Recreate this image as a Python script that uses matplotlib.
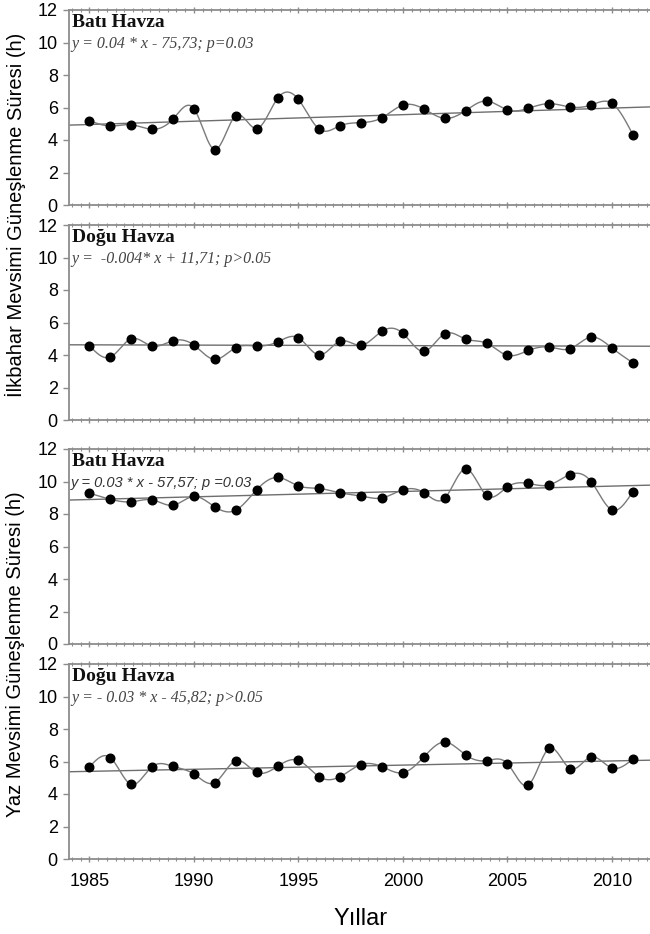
import numpy as np
import matplotlib
matplotlib.use("Agg")
import matplotlib.pyplot as plt
from matplotlib.ticker import MultipleLocator

years = list(range(1985, 2012))

# İlkbahar (spring)
spring_bati = [5.19, 4.86, 4.94, 4.66, 5.29, 5.93, 3.41, 5.50, 4.70, 6.56, 6.50, 4.66,
               4.88, 5.07, 5.37, 6.15, 5.91, 5.33, 5.81, 6.40, 5.85, 5.95, 6.24, 6.03,
               6.15, 6.26, 4.33]
spring_dogu = [4.57, 3.87, 5.00, 4.55, 4.88, 4.61, 3.73, 4.45, 4.55, 4.80, 5.06, 4.00,
               4.86, 4.59, 5.47, 5.33, 4.22, 5.31, 4.98, 4.73, 3.98, 4.28, 4.49, 4.39,
               5.10, 4.43, 3.52]
# Yaz (summer)
summer_bati = [9.28, 8.91, 8.75, 8.87, 8.54, 9.08, 8.44, 8.23, 9.49, 10.25, 9.73, 9.57,
               9.30, 9.10, 8.99, 9.49, 9.32, 8.97, 10.78, 9.14, 9.67, 9.88, 9.79, 10.43,
               10.00, 8.25, 9.38]
summer_dogu = [5.66, 6.24, 4.59, 5.68, 5.70, 5.23, 4.70, 6.05, 5.33, 5.70, 6.07, 5.05,
               5.07, 5.81, 5.68, 5.31, 6.28, 7.20, 6.40, 6.05, 5.87, 4.55, 6.81, 5.56,
               6.28, 5.60, 6.15]

titles = ["Batı Havza", "Doğu Havza", "Batı Havza", "Doğu Havza"]
equations = ["y = 0.04 * x - 75,73; p=0.03",
             "y =  -0.004* x + 11,71; p>0.05",
             "y = 0.03 * x - 57,57; p =0.03",
             "y = - 0.03 * x - 45,82; p>0.05"]
series = [spring_bati, spring_dogu, summer_bati, summer_dogu]

sans = "Liberation Sans"
serif = "Liberation Serif"


# natural cubic spline, only used to draw the smooth connector like the original
def spline(x, y, n=20):
    x = np.asarray(x, float)
    y = np.asarray(y, float)
    k = len(x)
    h = np.diff(x)
    A = np.zeros((k, k))
    b = np.zeros(k)
    A[0, 0] = A[-1, -1] = 1
    for i in range(1, k - 1):
        A[i, i - 1] = h[i - 1]
        A[i, i] = 2 * (h[i - 1] + h[i])
        A[i, i + 1] = h[i]
        b[i] = 3 * ((y[i + 1] - y[i]) / h[i] - (y[i] - y[i - 1]) / h[i - 1])
    c = np.linalg.solve(A, b)
    xs, ys = [], []
    for i in range(k - 1):
        bb = (y[i + 1] - y[i]) / h[i] - h[i] * (2 * c[i] + c[i + 1]) / 3
        d = (c[i + 1] - c[i]) / (3 * h[i])
        t = np.linspace(0, h[i], n, endpoint=False)
        xs.extend(x[i] + t)
        ys.extend(y[i] + bb * t + c[i] * t ** 2 + d * t ** 3)
    xs.append(x[-1])
    ys.append(y[-1])
    return xs, ys


fig = plt.figure(figsize=(6.5, 9.34), dpi=100)

tops = [10, 225, 449, 664]
height = 195
xlim = (1984.02, 2011.82)

for i in range(4):
    bottom = 1 - (tops[i] + height) / 934
    ax = fig.add_axes([0.106, bottom, 0.894, height / 934])
    vals = series[i]

    xs, ys = spline(years, vals)
    ax.plot(xs, ys, color="#7a7a7a", lw=1.0, zorder=2)

    slope, icpt = np.polyfit(years, vals, 1)
    tx = np.array(xlim)
    ax.plot(tx, slope * tx + icpt, color="#6e6e6e", lw=1.0, zorder=1)

    ax.plot(years, vals, "o", color="black", ms=6.2, zorder=3)

    ax.set_xlim(*xlim)
    ax.set_ylim(0, 12)
    ax.set_yticks(range(0, 13, 2))
    ax.xaxis.set_major_locator(MultipleLocator(5))
    ax.xaxis.set_minor_locator(MultipleLocator(5 / 12))

    for s in ["left", "top", "bottom"]:
        ax.spines[s].set_color("#8c8c8c")
        ax.spines[s].set_linewidth(1.3)
    ax.spines["right"].set_visible(False)

    ax.tick_params(axis="y", direction="out", length=4, width=1, color="#8c8c8c",
                   labelsize=13, pad=4)
    ax.tick_params(axis="x", which="both", top=True, direction="inout",
                   color="#8c8c8c", labelsize=13, pad=8)
    ax.tick_params(axis="x", which="major", length=4, width=1)
    ax.tick_params(axis="x", which="minor", length=2.5, width=0.8)
    for lab in ax.get_yticklabels() + ax.get_xticklabels():
        lab.set_family(sans)
    if i < 3:
        ax.set_xticklabels([])

    ax.text(0.006, 0.913, titles[i], transform=ax.transAxes, family=serif,
            fontweight="bold", fontsize=14, color="#111111")
    if i == 2:
        ax.text(0.004, 0.805, equations[i], transform=ax.transAxes, family=sans,
                style="italic", fontsize=10.5, color="#333333")
    else:
        ax.text(0.004, 0.805, equations[i], transform=ax.transAxes, family=serif,
                style="italic", fontsize=11.5, color="#444444")

fig.text(0.024, 1 - 215 / 934, "İlkbahar Mevsimi Güneşlenme Süresi (h)", rotation=90,
         ha="center", va="center", family=sans, fontsize=14.5)
fig.text(0.024, 1 - 654 / 934, "Yaz Mevsimi Güneşlenme Süresi (h)", rotation=90,
         ha="center", va="center", family=sans, fontsize=14.5)
fig.text(0.554, 1 - 919 / 934, "Yıllar", ha="center", va="center", family=sans,
         fontsize=17)

fig.savefig("out.png", dpi=100)
